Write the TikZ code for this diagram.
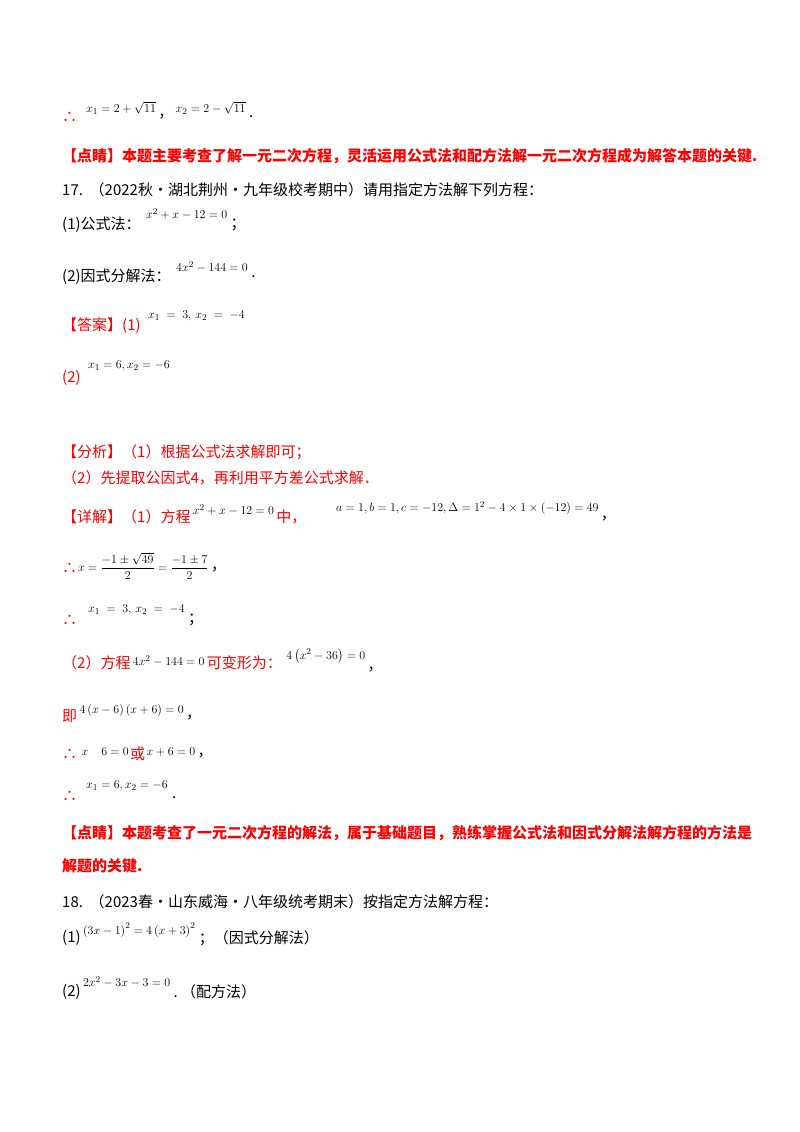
\documentclass[tikz,border=0pt]{standalone}
\usepackage{fontspec}
\usepackage{amsmath}
\setmainfont{Liberation Serif}
\newfontfamily\cjk{Noto Sans CJK SC}
\begin{document}
\begin{tikzpicture}[x=1pt,y=-1pt,
  t/.style={anchor=west,inner sep=0pt,font=\fontsize{15}{17}\selectfont\cjk},
  r/.style={t,text=red},
  rb/.style={t,text=red,font=\fontsize{15}{17}\selectfont\cjk\bfseries},
  m/.style={anchor=west,inner sep=0pt,font=\fontsize{13}{15}\selectfont}]
\useasboundingbox (0,0) rectangle (800,1132);
\fill[white] (0,0) rectangle (800,1132);
\node[r] (a1) at (62,117) {∴};
\node[m] (a2) at (86,108) {$x_1=2+\sqrt{11}$};
\node[t,xshift=2pt] (a3) at (a2.east |- a1.west) {，};
\node[m,xshift=2pt] (a4) at (a3.east |- a2.west) {$x_2=2-\sqrt{11}$};
\node[t,xshift=3pt] (a5) at (a4.east |- a1.west) {.};
\node[rb] (b1) at (62,156) {【点睛】本题主要考查了解一元二次方程，灵活运用公式法和配方法解一元二次方程成为解答本题的关键.};
\node[t] (c1) at (62,190) {17.\ \ （2022秋·湖北荆州·九年级校考期中）请用指定方法解下列方程：};
\node[t] (d1) at (62,225) {(1)公式法：};
\node[m] (d2) at (146,214) {$x^2+x-12=0$};
\node[t,xshift=3pt] (d3) at (d2.east |- d1.west) {；};
\node[t] (e1) at (62,277) {(2)因式分解法：};
\node[m] (e2) at (176,267) {$4x^2-144=0$};
\node[t,xshift=3pt] (e3) at (e2.east |- e1.west) {.};
\node[r] (f1) at (62,326) {【答案】(1)};
\node[m] (f2) at (148,316) {$x_1\ =\ 3,\,x_2\ =\ -4$};
\node[r] (g1) at (62,378) {(2)};
\node[m] (g2) at (88,366) {$x_1=6,x_2=-6$};
\node[r] (h1) at (62,452) {【分析】（1）根据公式法求解即可；};
\node[r] (h2) at (62,478) {（2）先提取公因式4，再利用平方差公式求解．};
\node[r] (i1) at (62,517) {【详解】（1）方程};
\node[m,xshift=2pt] (i2) at (i1.east |- 0,510) {$x^2+x-12=0$};
\node[r,xshift=2pt] (i3) at (i2.east |- i1.west) {中，};
\node[m] (i4) at (336,508) {$a=1,b=1,c=-12,\Delta=1^2-4\times1\times\left(-12\right)=49$};
\node[t,xshift=2pt] (i5) at (i4.east |- 0,519) {，};
\node[r] (j1) at (62,568) {∴};
\node[m] (j2) at (78,566) {$x=\dfrac{-1\pm\sqrt{49}}{2}=\dfrac{-1\pm7}{2}$};
\node[t,xshift=2pt] (j3) at (j2.east |- 0,570) {，};
\node[r] (k1) at (62,620) {∴};
\node[m] (k2) at (88,610) {$x_1\ =\ 3,\,x_2\ =\ -4$};
\node[t,xshift=3pt] (k3) at (k2.east |- k1.west) {；};
\node[r] (l1) at (62,663) {（2）方程};
\node[m,xshift=2pt] (l2) at (l1.east |- 0,661) {$4x^2-144=0$};
\node[r,xshift=2pt] (l3) at (l2.east |- l1.west) {可变形为：};
\node[m,xshift=4pt] (l4) at (l3.east |- 0,656) {$4\left(x^2-36\right)=0$};
\node[t,xshift=2pt] (l5) at (l4.east |- 0,670) {，};
\node[r] (m1) at (62,716) {即};
\node[m,xshift=2pt] (m2) at (m1.east |- 0,710) {$4\left(x-6\right)\left(x+6\right)=0$};
\node[t,xshift=2pt] (m3) at (m2.east |- 0,718) {，};
\node[r] (n1) at (62,754) {∴};
\node[m,xshift=4pt] (n2) at (n1.east |- 0,752) {$x\quad6=0$};
\node[r,xshift=1pt] (n3) at (n2.east |- n1.west) {或};
\node[m,xshift=1pt] (n4) at (n3.east |- 0,752) {$x+6=0$};
\node[t,xshift=2pt] (n5) at (n4.east |- 0,756) {，};
\node[r] (o1) at (62,796) {∴};
\node[m] (o2) at (86,786) {$x_1=6,x_2=-6$};
\node[t,xshift=4pt] (o3) at (o2.east |- 0,798) {.};
\node[rb] (p1) at (62,833) {【点睛】本题考查了一元二次方程的解法，属于基础题目，熟练掌握公式法和因式分解法解方程的方法是};
\node[rb] (p2) at (62,866) {解题的关键.};
\node[t] (q1) at (62,902) {18.\ \ （2023春·山东威海·八年级统考期末）按指定方法解方程：};
\node[t] (r1) at (62,938) {(1)};
\node[m,xshift=2pt] (r2) at (r1.east |- 0,930) {$\left(3x-1\right)^2=4\left(x+3\right)^2$};
\node[t,xshift=3pt] (r3) at (r2.east |- r1.west) {；（因式分解法）};
\node[t] (s1) at (62,992) {(2)};
\node[m,xshift=2pt] (s2) at (s1.east |- 0,982) {$2x^2-3x-3=0$};
\node[t,xshift=3pt] (s3) at (s2.east |- s1.west) {.\ （配方法）};
\end{tikzpicture}
\end{document}
